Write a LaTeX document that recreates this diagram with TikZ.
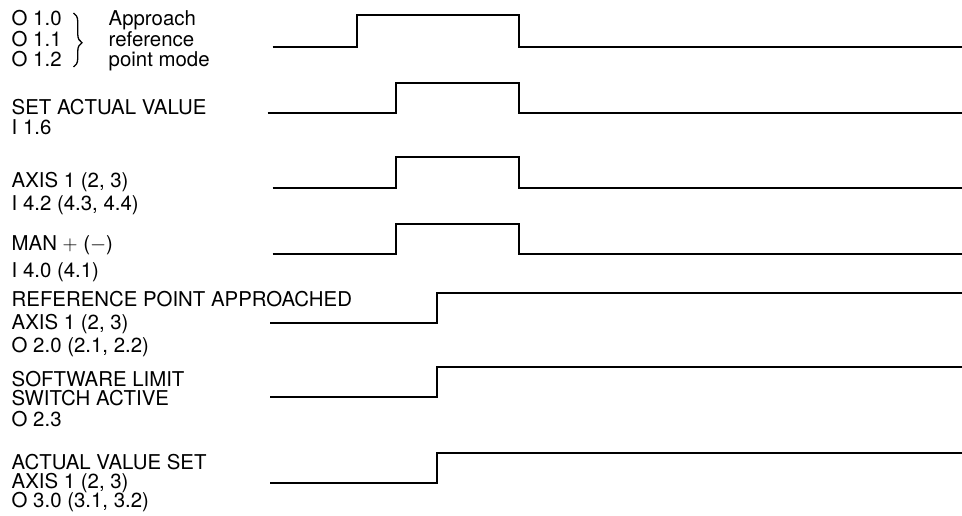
\documentclass[tikz,border=0pt]{standalone}
\usepackage{fontspec}
\setmainfont{TeX Gyre Heros}
\usetikzlibrary{positioning, decorations.pathreplacing}

\begin{document}
\begin{tikzpicture}[x=1pt, y=-1pt,
    lbl/.style={anchor=base west, inner sep=0pt, font=\fontsize{20.4}{20.4}\selectfont},
    sig/.style={line width=2pt}]
      \useasboundingbox (0,0) rectangle (962,516);

      % mode outputs with brace
      \node [lbl] (o10) at (11.5,26) {O 1.0};
      \node [lbl, below=20.5pt of o10.base west, anchor=base west] (o11) {O 1.1};
      \node [lbl, below=20.5pt of o11.base west, anchor=base west] (o12) {O 1.2};
      \node [lbl] (mode1) at (108.5,26) {Approach};
      \node [lbl, below=20.5pt of mode1.base west, anchor=base west] (mode2) {reference};
      \node [lbl, below=20.5pt of mode2.base west, anchor=base west] (mode3) {point mode};
      \draw [line width=1.3pt, decorate, decoration={brace, amplitude=8.5pt, aspect=0.55}] (73.5,13) -- (73.5,67);

      % input labels
      \node [lbl] (setval) at (11.5,114.3) {SET ACTUAL VALUE};
      \node [lbl, below=20.5pt of setval.base west, anchor=base west] (setvalin) {I 1.6};
      \node [lbl] (axis) at (11.5,188) {AXIS 1 (2, 3)};
      \node [lbl, below=22.5pt of axis.base west, anchor=base west] (axisin) {I 4.2 (4.3, 4.4)};
      \node [lbl] (man) at (11.5,250.5) {MAN $+$ ($-$)};
      \node [lbl, below=26.5pt of man.base west, anchor=base west] (manin) {I 4.0 (4.1)};

      % output labels
      \node [lbl] (refpt) at (11.5,306) {REFERENCE POINT APPROACHED};
      \node [lbl, below=23.5pt of refpt.base west, anchor=base west] (refaxis) {AXIS 1 (2, 3)};
      \node [lbl, below=22.5pt of refaxis.base west, anchor=base west] (refout) {O 2.0 (2.1, 2.2)};
      \node [lbl] (swlim) at (11.5,386.3) {SOFTWARE LIMIT};
      \node [lbl, below=19pt of swlim.base west, anchor=base west] (swact) {SWITCH ACTIVE};
      \node [lbl, below=21.4pt of swact.base west, anchor=base west] (swout) {O 2.3};
      \node [lbl] (valset) at (11.5,469) {ACTUAL VALUE SET};
      \node [lbl, below=19.5pt of valset.base west, anchor=base west] (valaxis) {AXIS 1 (2, 3)};
      \node [lbl, below=19pt of valaxis.base west, anchor=base west] (valout) {O 3.0 (3.1, 3.2)};

      % signals
      \draw [sig] (272.7,46.7) -- (357.3,46.7) -- (357.3,15) -- (519,15) -- (519,46.7) -- (962,46.7);
      \draw [sig] (267.7,112.7) -- (396,112.7) -- (396,82.7) -- (519,82.7) -- (519,112.7) -- (962,112.7);
      \draw [sig] (272.7,187.7) -- (396,187.7) -- (396,157.3) -- (519,157.3) -- (519,187.7) -- (962,187.7);
      \draw [sig] (272.7,254.3) -- (396,254.3) -- (396,223.7) -- (519,223.7) -- (519,254.3) -- (962,254.3);
      \draw [sig] (270,323.3) -- (437.3,323.3) -- (437.3,292.7) -- (962,292.7);
      \draw [sig] (270,397.3) -- (437.3,397.3) -- (437.3,367.3) -- (962,367.3);
      \draw [sig] (270,483.3) -- (437.3,483.3) -- (437.3,452.7) -- (962,452.7);
    \end{tikzpicture}
\end{document}
